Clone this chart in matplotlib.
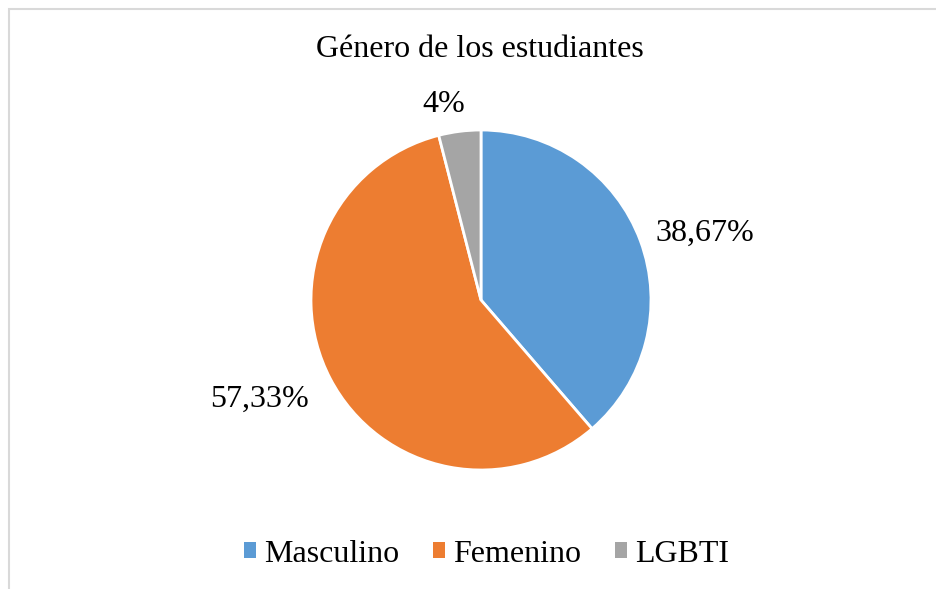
import matplotlib
matplotlib.use("Agg")
import matplotlib.pyplot as plt
from matplotlib.patches import Patch, Rectangle

categories = ["Masculino", "Femenino", "LGBTI"]
values = [38.67, 57.33, 4.0]
value_labels = ["38,67%", "57,33%", "4%"]
colors = ["#5B9BD5", "#ED7D31", "#A5A5A5"]
title = "Género de los estudiantes"

plt.rcParams['font.family'] = ['Liberation Serif', 'DejaVu Serif']
FS = 23

W, H = 937, 589
fig = plt.figure(figsize=(W / 100, H / 100), dpi=100)

# chart border (partially visible)
fig.patches.append(Rectangle((9.5 / W, -0.1), 1.2, (H - 9.5) / H + 0.1, transform=fig.transFigure,
                             fill=False, edgecolor="#d9d9d9", linewidth=1.5))

cx, cy, r = 481, 300, 170
ax = fig.add_axes([(cx - r) / W, (H - cy - r) / H, 2 * r / W, 2 * r / H])
wedges, _ = ax.pie(values, colors=colors, startangle=90, counterclock=False,
                   wedgeprops=dict(edgecolor="white", linewidth=2))
ax.set_xlim(-1, 1)
ax.set_ylim(-1, 1)
ax.set_aspect("equal")
ax.axis("off")

label_pos = [(1.318, 0.347), (-1.30, -0.629), (-0.218, 1.106)]
for (x, y), lab in zip(label_pos, value_labels):
    ax.text(x, y, lab, ha="center", va="baseline", fontsize=FS, color="black", clip_on=False)

fig.text(480 / W, 1 - 57 / H, title, ha="center", va="baseline", fontsize=FS)

handles = [Patch(facecolor=c, edgecolor="none") for c in colors]
fig.legend(handles, categories, loc="center", bbox_to_anchor=(486.5 / W, 1 - 554 / H), ncol=3,
           frameon=False, fontsize=FS, handlelength=0.38, handleheight=0.38,
           handletextpad=0.25, columnspacing=1.05, borderpad=0, borderaxespad=0)

fig.savefig("out.png", dpi=100)
